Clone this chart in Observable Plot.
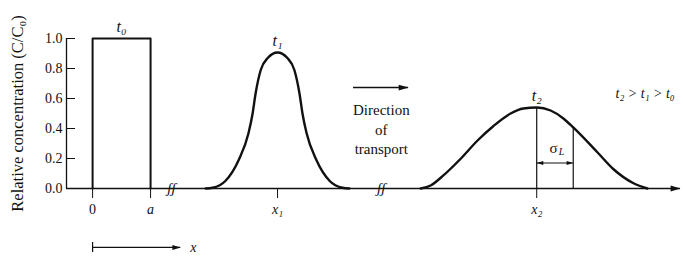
<!DOCTYPE html>
<html><head><meta charset="utf-8">
<script src="https://cdn.jsdelivr.net/npm/d3@7"></script>
<script src="https://cdn.jsdelivr.net/npm/@observablehq/plot@0.6"></script>
<style>
  body { margin: 0; background: #fff; }
  svg { font-family: "Liberation Serif", "DejaVu Serif", serif; }
</style>
</head><body><div id="chart"></div>
<script>
// ---- data (x in units of the pulse width a; y = relative concentration C/C0) ----
const xDomain = [-0.45, 10.14];
const yTicks = [0, 0.2, 0.4, 0.6, 0.8, 1.0];

// initial square pulse at t0
const rectX = [0, 0, 1, 1];
const rectY = [0, 1, 1, 0];

// pulse at t1
const curve1X = [1.95, 2.07, 2.29, 2.52, 2.69, 2.76, 2.81, 2.90, 3.02, 3.19, 3.36, 3.48, 3.57, 3.62, 3.69, 3.86, 4.09, 4.31, 4.43];
const curve1Y = [0, 0.005, 0.05, 0.19, 0.37, 0.5, 0.63, 0.79, 0.87, 0.907, 0.87, 0.79, 0.63, 0.5, 0.37, 0.19, 0.05, 0.005, 0];

// pulse at t2
const curve2X = [5.66, 5.83, 6.05, 6.34, 6.64, 6.91, 7.21, 7.43, 7.66, 7.90, 8.12, 8.29, 8.71, 8.98, 9.33, 9.57];
const curve2Y = [0, 0.02, 0.087, 0.195, 0.32, 0.415, 0.5, 0.533, 0.54, 0.52, 0.467, 0.407, 0.24, 0.13, 0.035, 0];

// x-axis ticks
const zeroTick = [0];
const xTickValues = [1, 3.19, 7.66];
const xTickLabels = ["a", "x\u2081", "x\u2082"];

// peak-time labels
const timeLabels = ["t\u2080", "t\u2081", "t\u2082"];
const timeLabelX = [0.5, 3.19, 7.66];
const timeLabelY = [1.0, 0.907, 0.54];

// spread annotation
const x2Peak = 0.54;
const sigmaX = 8.29;
const sigmaY = 0.407;
const sigmaArrowY = 0.17;
const sigmaLabelX = 7.95;
const sigmaLabelY = 0.27;

// direction of transport
const directionArrow = {x1: 4.5, x2: 5.45, y: 0.673};
const directionText = "Direction\nof\ntransport";
const directionTextX = 4.98;
const directionTextY = 0.4;

// order label
const orderText = "t\u2082 > t\u2081 > t\u2080";
const orderX = 9.02;
const orderY = 0.633;

// axis breaks
const breakX = [1.36, 4.98];

// bottom x-direction arrow
const bottomArrow = {x1: 0, x2: 1.52, y: -0.393, barTop: -0.36, barBottom: -0.427, labelX: 1.74};

const yTitle = "Relative concentration (C/C\u2080)";

// ---- build ----
const rectData = rectX.map((x, i) => ({x, y: rectY[i]}));
const c1 = curve1X.map((x, i) => ({x, y: curve1Y[i]}));
const c2 = curve2X.map((x, i) => ({x, y: curve2Y[i]}));
const tl = timeLabels.map((t, i) => ({t, x: timeLabelX[i], y: timeLabelY[i]}));

// filled arrowhead symbol, tip at origin, pointing right
const arrowHead = {
  draw(ctx, size) {
    const r = Math.sqrt(size / Math.PI);
    const L = 2.2 * r, W = 0.65 * r;
    ctx.moveTo(0, 0);
    ctx.lineTo(-L, -W);
    ctx.lineTo(-L, W);
    ctx.closePath();
  }
};

const ink = "#111";

const chart = Plot.plot({
  width: 683,
  height: 256,
  marginLeft: 66,
  marginRight: 3,
  marginTop: 38,
  marginBottom: 68,
  x: {domain: xDomain, axis: null, label: null},
  y: {domain: [0, 1], axis: null, label: null},
  style: {fontFamily: "Liberation Serif", fontSize: "14px", color: ink, background: "white"},
  marks: [
    // y axis
    Plot.ruleX([xDomain[0]], {y1: 0, y2: 1, stroke: ink, strokeWidth: 1.3}),
    Plot.axisY(yTicks, {label: null, tickSize: -9, tickPadding: 13, tickFormat: d3.format(".1f"), fontSize: 14, stroke: ink, fill: ink}),
    // baseline with arrowhead
    Plot.ruleY([0], {stroke: ink, strokeWidth: 1.5}),
    Plot.dot([xDomain[1]], {x: d => d, y: 0, symbol: arrowHead, r: 4.5, fill: ink, stroke: null}),
    // x ticks
    Plot.axisX(zeroTick, {label: null, tickSize: 10, tickPadding: 6, tickFormat: () => "0", fontSize: 14, stroke: ink, fill: ink}),
    Plot.axisX(xTickValues, {label: null, tickSize: 10, tickPadding: 6, tickFormat: d => xTickLabels[xTickValues.indexOf(d)], fontSize: 14, fontStyle: "italic", stroke: ink, fill: ink}),
    // axis breaks
    Plot.text(breakX, {x: d => d, y: 0, text: () => "\u0283\u0283", fontSize: 15, fontStyle: "italic", fill: ink}),
    // pulses
    Plot.line(rectData, {x: "x", y: "y", stroke: ink, strokeWidth: 2}),
    Plot.line(c1, {x: "x", y: "y", curve: "monotone-x", stroke: ink, strokeWidth: 2.4}),
    Plot.line(c2, {x: "x", y: "y", curve: "monotone-x", stroke: ink, strokeWidth: 2.4}),
    // spread annotation
    Plot.ruleX([xTickValues[2]], {y1: 0, y2: x2Peak, stroke: ink, strokeWidth: 1.2}),
    Plot.ruleX([sigmaX], {y1: 0, y2: sigmaY, stroke: ink, strokeWidth: 1.2}),
    Plot.ruleY([sigmaArrowY], {x1: xTickValues[2], x2: sigmaX, stroke: ink, strokeWidth: 1.2}),
    Plot.dot([sigmaX], {x: d => d, y: sigmaArrowY, symbol: arrowHead, r: 3, fill: ink, stroke: null}),
    Plot.dot([xTickValues[2]], {x: d => d, y: sigmaArrowY, symbol: arrowHead, r: 3, rotate: 180, fill: ink, stroke: null}),
    Plot.text(["\u03C3"], {x: sigmaLabelX, y: sigmaLabelY, fontSize: 15, fill: ink}),
    Plot.text(["L"], {x: sigmaLabelX, y: sigmaLabelY, dx: 8, dy: 4, fontSize: 10, fontStyle: "italic", fill: ink}),
    // time labels
    Plot.text(tl, {x: "x", y: "y", text: "t", dy: -12, fontSize: 16, fontStyle: "italic", fill: ink}),
    Plot.text([orderText], {x: orderX, y: orderY, textAnchor: "start", fontSize: 14, fontStyle: "italic", fill: ink}),
    // direction of transport
    Plot.ruleY([directionArrow.y], {x1: directionArrow.x1, x2: directionArrow.x2, stroke: ink, strokeWidth: 1.4}),
    Plot.dot([directionArrow.x2], {x: d => d, y: directionArrow.y, symbol: arrowHead, r: 4.5, fill: ink, stroke: null}),
    Plot.text([directionText], {x: directionTextX, y: directionTextY, fontSize: 15, lineHeight: 1.3, fill: ink}),
    // bottom direction arrow
    Plot.ruleY([bottomArrow.y], {x1: bottomArrow.x1, x2: bottomArrow.x2, stroke: ink, strokeWidth: 1.2}),
    Plot.ruleX([bottomArrow.x1], {y1: bottomArrow.barBottom, y2: bottomArrow.barTop, stroke: ink, strokeWidth: 1.2}),
    Plot.dot([bottomArrow.x2], {x: d => d, y: bottomArrow.y, symbol: arrowHead, r: 3.8, fill: ink, stroke: null}),
    Plot.text(["x"], {x: bottomArrow.labelX, y: bottomArrow.y, fontSize: 14, fontStyle: "italic", fill: ink}),
    // y title
    Plot.text([yTitle], {frameAnchor: "left", textAnchor: "middle", rotate: -90, dx: -49, fontSize: 16.5, fill: ink})
  ]
});
document.getElementById("chart").append(chart);
</script>
</body></html>
